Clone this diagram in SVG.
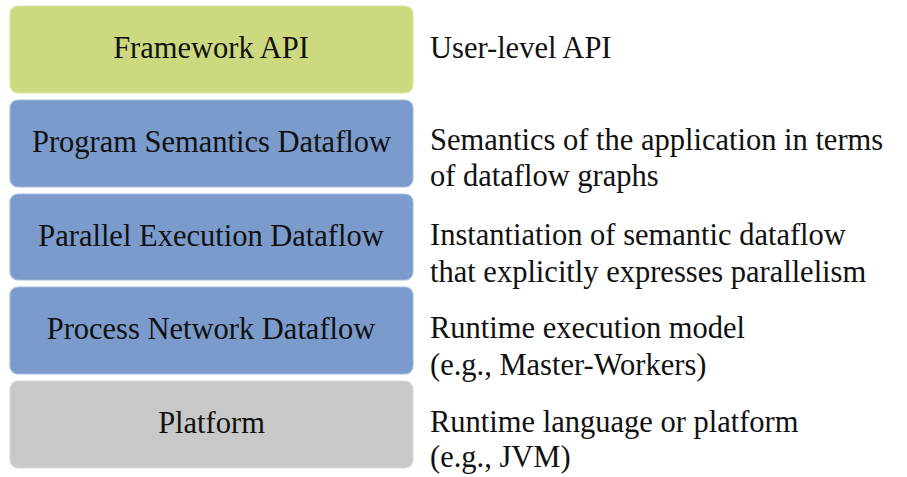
<svg xmlns="http://www.w3.org/2000/svg" width="907" height="477" viewBox="0 0 907 477">
<style>
.box{stroke-width:1.2}
.green{fill:#CCD97E;stroke:#DCE5A6}
.blue{fill:#7A9BCB;stroke:#A4BADC}
.gray{fill:#C8C8C8;stroke:#DADADA}
</style>
<rect width="907" height="477" fill="#fff"/>
<g id="framework-api">
<rect class="box green" x="10" y="6" width="403" height="87" rx="8"/>
<text x="211" y="58" text-anchor="middle" font-family="Liberation Serif, serif" font-size="30.5" fill="#111">Framework API</text>
</g>
<g id="program-semantics">
<rect class="box blue" x="10" y="100" width="403" height="87" rx="8"/>
<text x="211.5" y="152" text-anchor="middle" font-family="Liberation Serif, serif" font-size="30.5" fill="#111">Program Semantics Dataflow</text>
</g>
<g id="parallel-execution">
<rect class="box blue" x="10" y="194" width="403" height="86" rx="8"/>
<text x="211" y="246" text-anchor="middle" font-family="Liberation Serif, serif" font-size="30.5" fill="#111">Parallel Execution Dataflow</text>
</g>
<g id="process-network">
<rect class="box blue" x="10" y="287" width="403" height="87" rx="8"/>
<text x="211" y="339" text-anchor="middle" font-family="Liberation Serif, serif" font-size="30.5" fill="#111">Process Network Dataflow</text>
</g>
<g id="platform">
<rect class="box gray" x="10" y="381" width="403" height="87" rx="8"/>
<text x="211.5" y="433" text-anchor="middle" font-family="Liberation Serif, serif" font-size="30.5" fill="#111">Platform</text>
</g>
<g id="descriptions">
<text x="430" y="58" font-family="Liberation Serif, serif" font-size="30.5" fill="#111">User-level API</text>
<text x="430" y="150" font-family="Liberation Serif, serif" font-size="30.5" fill="#111">Semantics of the application in terms</text>
<text x="430" y="186" font-family="Liberation Serif, serif" font-size="30.5" fill="#111">of dataflow graphs</text>
<text x="430" y="245" font-family="Liberation Serif, serif" font-size="30.5" fill="#111">Instantiation of semantic dataflow</text>
<text x="430" y="282" font-family="Liberation Serif, serif" font-size="30.5" fill="#111">that explicitly expresses parallelism</text>
<text x="430" y="338" font-family="Liberation Serif, serif" font-size="30.5" fill="#111">Runtime execution model</text>
<text x="430" y="375" font-family="Liberation Serif, serif" font-size="30.5" fill="#111">(e.g., Master-Workers)</text>
<text x="430" y="432" font-family="Liberation Serif, serif" font-size="30.5" fill="#111">Runtime language or platform</text>
<text x="430" y="467" font-family="Liberation Serif, serif" font-size="30.5" fill="#111">(e.g., JVM)</text>
</g>
<g id="connectors"></g>
</svg>
